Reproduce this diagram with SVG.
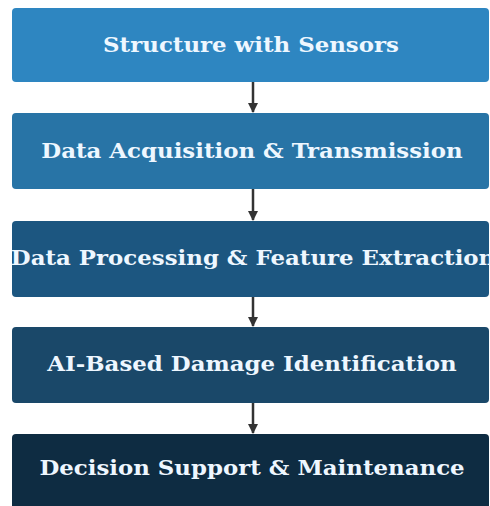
<svg xmlns="http://www.w3.org/2000/svg" width="490" height="506" viewBox="0 0 490 506">
<defs>
<style>
.box{stroke:none}
.lbl{font-family:"DejaVu Serif",serif;font-weight:bold;font-size:21px;fill:#EEF7FF;text-anchor:middle}
.conn{stroke:#333;stroke-width:2.5;fill:none}
</style>
<marker id="ah" viewBox="0 0 10 10" refX="9" refY="5" markerWidth="4" markerHeight="4" orient="auto" markerUnits="strokeWidth">
<path d="M0,0 L10,5 L0,10 z" fill="#333"/>
</marker>
</defs>
<rect width="490" height="506" fill="#FFFFFF"/>
<g id="n1"><rect class="box" x="12" y="8" width="477" height="74" rx="4" fill="#2E86C1"/><text class="lbl" transform="translate(251,52) scale(1.09,1)">Structure with Sensors</text></g>
<g id="n2"><rect class="box" x="12" y="113" width="477" height="76" rx="4" fill="#2874A6"/><text class="lbl" transform="translate(252,158) scale(1.09,1)">Data Acquisition &amp; Transmission</text></g>
<g id="n3"><rect class="box" x="12" y="221" width="477" height="76" rx="4" fill="#1C5680"/><text class="lbl" transform="translate(253,265) scale(1.09,1)">Data Processing &amp; Feature Extraction</text></g>
<g id="n4"><rect class="box" x="12" y="327" width="477" height="76" rx="4" fill="#1A4869"/><text class="lbl" transform="translate(252,371) scale(1.09,1)">AI-Based Damage Identification</text></g>
<g id="n5"><rect class="box" x="12" y="434" width="477" height="80" rx="4" fill="#0E2C42"/><text class="lbl" transform="translate(252,475) scale(1.09,1)">Decision Support &amp; Maintenance</text></g>
<g id="connectors">
<line class="conn" x1="253" y1="82" x2="253" y2="112" marker-end="url(#ah)"/>
<line class="conn" x1="253" y1="189" x2="253" y2="220" marker-end="url(#ah)"/>
<line class="conn" x1="253" y1="297" x2="253" y2="326" marker-end="url(#ah)"/>
<line class="conn" x1="253" y1="403" x2="253" y2="433" marker-end="url(#ah)"/>
</g>
</svg>
